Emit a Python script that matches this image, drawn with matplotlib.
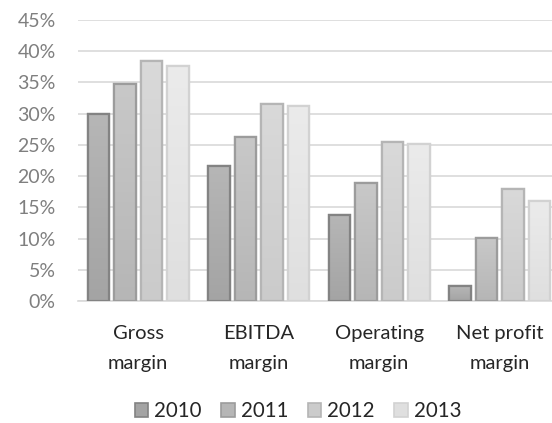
import numpy as np
import matplotlib
matplotlib.use("Agg")
import matplotlib.pyplot as plt
from matplotlib.colors import LinearSegmentedColormap

plt.rcParams['font.family'] = ['Lato', 'DejaVu Sans']

categories = ["Gross\nmargin", "EBITDA\nmargin", "Operating\nmargin", "Net profit\nmargin"]
years = ["2010", "2011", "2012", "2013"]
values = {
    "2010": [29.9, 21.6, 13.8, 2.4],
    "2011": [34.8, 26.3, 18.9, 10.1],
    "2012": [38.4, 31.5, 25.4, 18.0],
    "2013": [37.6, 31.2, 25.1, 16.0],
}
y_ticks = [0, 5, 10, 15, 20, 25, 30, 35, 40, 45]

# (top colour, bottom colour, edge colour) per series
styles = {
    "2010": ("#b6b6b6", "#a4a4a4", "#838383"),
    "2011": ("#c8c8c8", "#b6b6b6", "#9c9c9c"),
    "2012": ("#d9d9d9", "#cbcbcb", "#b5b5b5"),
    "2013": ("#ebebeb", "#dfdfdf", "#d2d2d2"),
}

fig = plt.figure(figsize=(5.52, 4.23), dpi=100)
ax = fig.add_axes([78 / 552, 122 / 423, 482 / 552, 281 / 423])

x = np.arange(len(categories))
step = 0.22
width = 0.178
offsets = (np.arange(len(years)) - 1.5) * step

for i, yr in enumerate(years):
    top, bottom, edge = styles[yr]
    cmap = LinearSegmentedColormap.from_list(yr, [bottom, top])
    bars = ax.bar(x + offsets[i], values[yr], width=width, color=bottom,
                  edgecolor=edge, linewidth=1.6, zorder=3, label=yr)
    for b in bars:
        x0, y0 = b.get_x(), b.get_y()
        w, h = b.get_width(), b.get_height()
        grad = np.linspace(0, 1, 64).reshape(-1, 1)
        im = ax.imshow(grad, cmap=cmap, origin="lower", aspect="auto",
                       extent=(x0, x0 + w, y0, y0 + h), zorder=3.5)
        im.set_clip_path(b)
        # redraw outline on top of the gradient
        ax.bar(x0 + w / 2, h, width=w, fill=False, edgecolor=edge,
               linewidth=1.6, zorder=4)

ax.set_xlim(-0.5, len(categories) - 0.5)
ax.set_ylim(0, 45)
ax.set_yticks(y_ticks)
ax.set_yticklabels([f"{t}%" for t in y_ticks], color="#7f7f7f", fontsize=14)
ax.set_xticks(x)
ax.set_xticklabels(categories, color="#262626", fontsize=14.5, linespacing=1.95)
ax.tick_params(axis="both", length=0)
ax.tick_params(axis="y", pad=16)
ax.tick_params(axis="x", pad=17)
ax.grid(axis="y", color="#d9d9d9", linewidth=1.2, zorder=0)
for s in ["top", "right", "left"]:
    ax.spines[s].set_visible(False)
ax.spines["bottom"].set_color("#d9d9d9")
ax.spines["bottom"].set_linewidth(1.2)

handles = [plt.Rectangle((0, 0), 1, 1, facecolor=styles[yr][1],
                         edgecolor=styles[yr][2], linewidth=1.2) for yr in years]
fig.legend(handles, years, loc="center", bbox_to_anchor=(298 / 552, 1 - 411 / 423),
           ncol=4, frameon=False, fontsize=14.8, handlelength=0.65, handleheight=0.65,
           handletextpad=0.3, columnspacing=0.95, labelcolor="#262626")

fig.savefig("out.png", dpi=100)
